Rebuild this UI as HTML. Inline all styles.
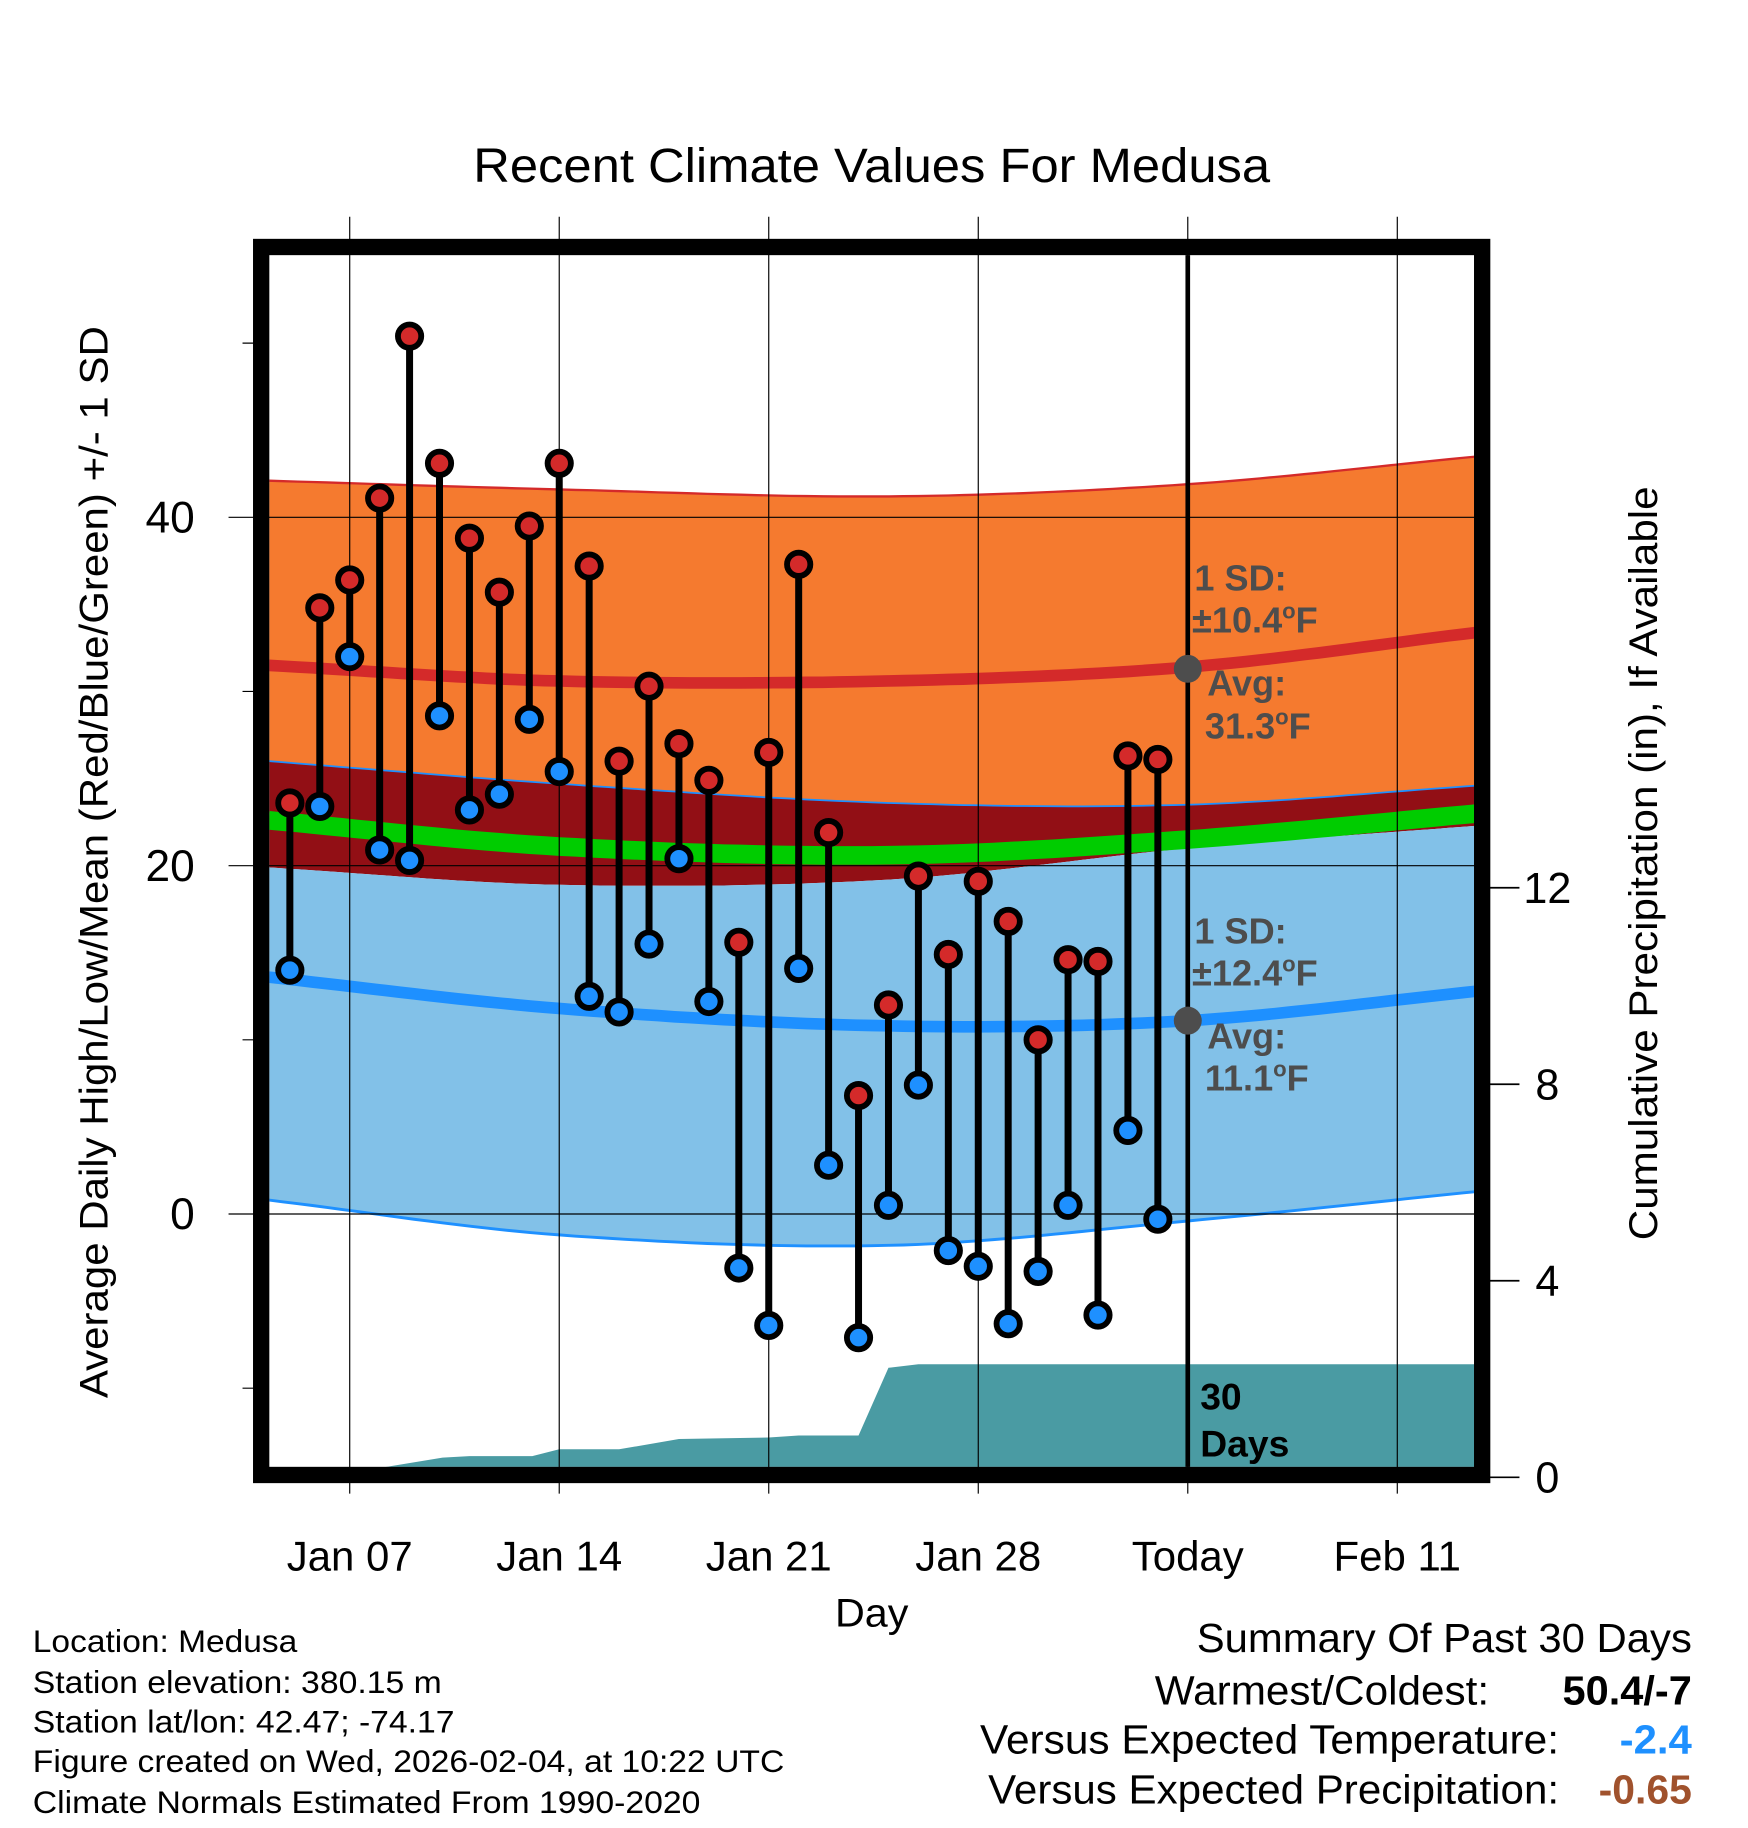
<!DOCTYPE html>
<html><head><meta charset="utf-8"><style>
html,body{margin:0;padding:0;background:#fff;}
svg{display:block;font-family:"Liberation Sans",Arial,sans-serif;}
</style></head><body>
<svg id="chart" width="1748" height="1828" viewBox="0 0 1500 1569" xmlns="http://www.w3.org/2000/svg">
<rect width="1500" height="1569" fill="#fff"/>
<text x="748" y="156" font-size="41" text-anchor="middle" textLength="684" lengthAdjust="spacingAndGlyphs">Recent Climate Values For Medusa</text>
<defs><clipPath id="plotclip"><rect x="231" y="219" width="1038" height="1040"/></clipPath></defs>
<g id="plot" clip-path="url(#plotclip)"></g>
<g id="overlay"></g>
<text transform="translate(92,740) rotate(-90)" font-size="34" text-anchor="middle" textLength="920" lengthAdjust="spacingAndGlyphs">Average Daily High/Low/Mean (Red/Blue/Green) +/- 1 SD</text>
<text transform="translate(1422,741) rotate(-90)" font-size="34" text-anchor="middle" textLength="647" lengthAdjust="spacingAndGlyphs">Cumulative Precipitation (in), If Available</text>
<text x="748" y="1396" font-size="34" text-anchor="middle" textLength="63" lengthAdjust="spacingAndGlyphs">Day</text>
<g font-size="27" lengthAdjust="spacingAndGlyphs">
<text x="28" y="1418" textLength="227" lengthAdjust="spacingAndGlyphs">Location: Medusa</text>
<text x="28" y="1453" textLength="351" lengthAdjust="spacingAndGlyphs">Station elevation: 380.15 m</text>
<text x="28" y="1487" textLength="362" lengthAdjust="spacingAndGlyphs">Station lat/lon: 42.47; -74.17</text>
<text x="28" y="1521" textLength="645" lengthAdjust="spacingAndGlyphs">Figure created on Wed, 2026-02-04, at 10:22 UTC</text>
<text x="28" y="1556" textLength="573" lengthAdjust="spacingAndGlyphs">Climate Normals Estimated From 1990-2020</text>
</g>
<g font-size="35">
<text x="1027" y="1418" textLength="425" lengthAdjust="spacingAndGlyphs">Summary Of Past 30 Days</text>
<text x="991" y="1463" textLength="287" lengthAdjust="spacingAndGlyphs">Warmest/Coldest:</text>
<text x="1341" y="1463" font-weight="bold" textLength="111" lengthAdjust="spacingAndGlyphs">50.4/-7</text>
<text x="841" y="1505" textLength="497" lengthAdjust="spacingAndGlyphs">Versus Expected Temperature:</text>
<text x="1390" y="1505" font-weight="bold" fill="#1e90ff" textLength="62" lengthAdjust="spacingAndGlyphs">-2.4</text>
<text x="848" y="1548" textLength="490" lengthAdjust="spacingAndGlyphs">Versus Expected Precipitation:</text>
<text x="1372" y="1548" font-weight="bold" fill="#a0522d" textLength="80" lengthAdjust="spacingAndGlyphs">-0.65</text>
</g>
</svg>
<script>
// day offsets relative to Jan 07
const obsDays = [-2,-1,0,1,2,3,4,5,6,7,8,9,10,11,12,13,14,15,16,17,18,19,20,21,22,23,24,25,26,27];
const highs = [23.6,34.8,36.4,41.1,50.4,43.1,38.8,35.7,39.5,43.1,37.2,26.0,30.3,27.0,24.9,15.6,26.5,37.3,21.9,6.8,12.0,19.4,14.9,19.1,16.8,10.0,14.6,14.5,26.3,26.1];
const lows = [14.0,23.4,32.0,20.9,20.3,28.6,23.2,24.1,28.4,25.4,12.5,11.6,15.5,20.4,12.2,-3.1,-6.4,14.1,2.8,-7.1,0.5,7.4,-2.1,-3.0,-6.3,-3.3,0.5,-5.8,4.8,-0.3];
const normDays = [-2.7,7,18,28,37.7];
const highPlusSD = [42.1,41.6,41.2,41.9,43.5];
const highAvg = [31.5,30.6,30.6,31.4,33.4];
const highMinusSD = [26.0,24.7,23.6,23.5,24.6];
const meanAvg = [22.6,21.1,20.6,21.5,23.0];
const lowPlusSD = [19.9,18.9,19.2,21.0,22.3];
const lowAvg = [13.6,11.8,10.8,11.1,12.8];
const lowMinusSD = [0.8,-1.2,-1.8,-0.4,1.3];
const precipDays = [-2.7,1.2,3.1,4.0,6.1,7.0,9.0,11.0,14.0,15.0,17.0,18.0,19.0,37.7];
const precipVals = [0,0.21,0.40,0.43,0.43,0.57,0.57,0.78,0.81,0.85,0.85,2.23,2.30,2.30];
const xTickDays = [0,7,14,21,28,35];
const xTickLabels = ["Jan 07","Jan 14","Jan 21","Jan 28","Today","Feb 11"];
const yTicks = [0,20,40];
const yMinor = [-10,10,30,50];
const y2Ticks = [0,4,8,12];

const NS="http://www.w3.org/2000/svg";
const X = d => 300 + d*25.69;
const Y = v => 1042 - v*14.95;
const Y2 = v => 1268 - v*42.17;
const plot=document.getElementById('plot'), ov=document.getElementById('overlay');
function mk(tag, attrs, parent){const e=document.createElementNS(NS,tag);for(const k in attrs)e.setAttribute(k,attrs[k]);parent.appendChild(e);return e;}
function interp(xs, ys, n){ // Catmull-Rom style hermite through read points
  const m=xs.length, tg=[];
  for(let i=0;i<m;i++){
    if(i===0) tg.push((ys[1]-ys[0])/(xs[1]-xs[0]));
    else if(i===m-1) tg.push((ys[m-1]-ys[m-2])/(xs[m-1]-xs[m-2]));
    else tg.push((ys[i+1]-ys[i-1])/(xs[i+1]-xs[i-1]));
  }
  const pts=[];
  for(let i=0;i<m-1;i++){const h=xs[i+1]-xs[i];
    for(let j=0;j<n;j++){const t=j/n,t2=t*t,t3=t2*t;
      const v=(2*t3-3*t2+1)*ys[i]+(t3-2*t2+t)*h*tg[i]+(-2*t3+3*t2)*ys[i+1]+(t3-t2)*h*tg[i+1];
      pts.push([xs[i]+h*t,v]);}}
  pts.push([xs[m-1],ys[m-1]]);return pts;}
function line(arr){return interp(normDays,arr,20).map(p=>X(p[0]).toFixed(1)+','+Y(p[1]).toFixed(1));}
function band(top,bot,fill,name){
  const a=line(top), b=line(bot).reverse();
  const e=mk('polygon',{points:a.concat(b).join(' '),fill:fill},plot);
  
  
}
band(highPlusSD,highMinusSD,'#f57a2f','high-sd-band');
band(highMinusSD,lowPlusSD,'#920f15','overlap-band');
band(lowPlusSD,lowMinusSD,'#82c1e8','low-sd-band');
function pl(arr,color,w,name){const e=mk('polyline',{points:line(arr).join(' '),fill:'none',stroke:color,'stroke-width':w},plot);
  
  }
pl(highPlusSD,'#d42a2a',2,'high-plus-sd-line');
pl(highMinusSD,'#1e90ff',1.5,'high-minus-sd-line');
pl(lowMinusSD,'#1e90ff',2.5,'low-minus-sd-line');
pl(meanAvg,'#00cc00',16,'mean-line');
pl(highAvg,'#d42a2a',10,'high-avg-line');
pl(lowAvg,'#1e90ff',10,'low-avg-line');
// precip area
{let pts=[];for(let i=0;i<precipDays.length;i++){pts.push(X(precipDays[i])+','+Y2(precipVals[i]));}
 pts.push(X(37.7)+',1270',X(-2.7)+',1270');
 const e=mk('polygon',{points:pts.join(' '),fill:'#4a9ba3'},plot);
 
 }
// gridlines
xTickDays.forEach(d=>{const e=mk('line',{x1:X(d),x2:X(d),y1:186,y2:1282,stroke:'#000','stroke-width':1},ov);
 
 });
yTicks.forEach(v=>{const e=mk('line',{x1:196,x2:1269,y1:Y(v),y2:Y(v),stroke:'#000','stroke-width':1},ov);
 
 
 const t=mk('text',{x:167,y:Y(v)+13,'font-size':38,'text-anchor':'end'},ov);t.textContent=v;
 
 });
yMinor.forEach(v=>{const e=mk('line',{x1:208,x2:224,y1:Y(v),y2:Y(v),stroke:'#000','stroke-width':1},ov);
 
 });
y2Ticks.forEach(v=>{const e=mk('line',{x1:1276,x2:1304,y1:Y2(v),y2:Y2(v),stroke:'#000','stroke-width':1.5},ov);
 
 
 const t=mk('text',{x:1328,y:Y2(v)+13,'font-size':37,'text-anchor':'middle'},ov);t.textContent=v;
 
 });
xTickDays.forEach((d,i)=>{const t=mk('text',{x:X(d),y:1348,'font-size':36,'text-anchor':'middle'},ov);t.textContent=xTickLabels[i];
 
 });
// today line
{const e=mk('line',{x1:X(28),x2:X(28),y1:219,y2:1259,stroke:'#000','stroke-width':4},ov);
 
 }
// stems and markers
obsDays.forEach((d,i)=>{
 const s=mk('line',{x1:X(d),x2:X(d),y1:Y(highs[i]),y2:Y(lows[i]),stroke:'#000','stroke-width':6},ov);
 
 
 const h=mk('circle',{cx:X(d),cy:Y(highs[i]),r:10,fill:'#d42a2a',stroke:'#000','stroke-width':5},ov);
 
 
 const l=mk('circle',{cx:X(d),cy:Y(lows[i]),r:10,fill:'#1e90ff',stroke:'#000','stroke-width':5},ov);
 
 
});
// annotation dots
[[31.3,'high-avg-marker'],[11.1,'low-avg-marker']].forEach(p=>{const c=mk('circle',{cx:X(28),cy:Y(p[0]),r:12,fill:'#4d4d4d'},ov);
 
 });
function ann(x,y,html,name,size){const t=mk('text',{x:x,y:y,'font-size':size||31,'font-weight':'bold',fill:'#4d4d4d'},ov);t.innerHTML=html;
 
 }
ann(1025,507,'1 SD:','high-sd-label');
ann(1023,543,'±10.4<tspan font-size="19" dy="-12">o</tspan><tspan dy="12">F</tspan>','high-sd-value');
ann(1036,597,'Avg:','high-avg-label');
ann(1034,634,'31.3<tspan font-size="19" dy="-12">o</tspan><tspan dy="12">F</tspan>','high-avg-value');
ann(1025,810,'1 SD:','low-sd-label');
ann(1023,846,'±12.4<tspan font-size="19" dy="-12">o</tspan><tspan dy="12">F</tspan>','low-sd-value');
ann(1036,900,'Avg:','low-avg-label');
ann(1034,936,'11.1<tspan font-size="19" dy="-12">o</tspan><tspan dy="12">F</tspan>','low-avg-value');
{const t=mk('text',{x:1030,y:1210,'font-size':32,'font-weight':'bold',fill:'#000'},ov);t.innerHTML='30<tspan x="1030" dy="40">Days</tspan>';
 
 }
// frame
{const f=mk('rect',{x:224,y:212,width:1048,height:1054,fill:'none',stroke:'#000','stroke-width':14},ov);
 
 }
</script>
</body></html>
